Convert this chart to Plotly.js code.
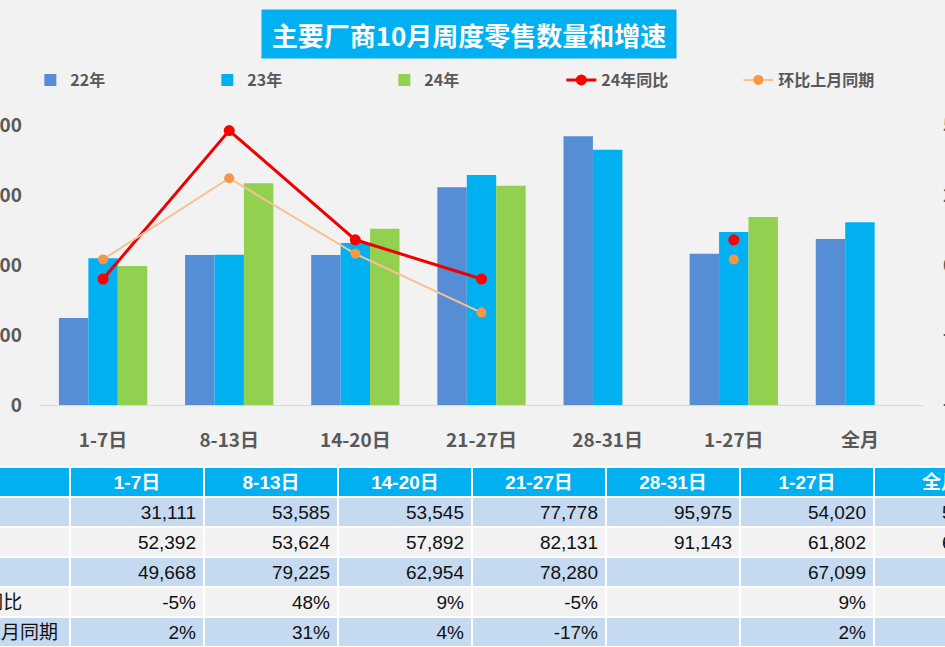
<!DOCTYPE html>
<html>
<head>
<meta charset="utf-8">
<script src="https://cdn.plot.ly/plotly-3.0.1.min.js"></script>
<style>
html,body{margin:0;padding:0;background:#F2F2F2;overflow:hidden;width:945px;height:647px;}
#chart{position:absolute;left:-64px;top:0;width:1072px;height:660px;}
</style>
</head>
<body>
<div id="chart"></div>
<script>
const categories = ['1-7日','8-13日','14-20日','21-27日','28-31日','1-27日','全月'];
const sales22 = [31111, 53585, 53545, 77778, 95975, 54020, 59322];
const sales23 = [52392, 53624, 57892, 82131, 91143, 61802, 65258];
const sales24 = [49668, 79225, 62954, 78280, null, 67099, null];
const yoy24 = [-5, 48, 9, -5, null, 9, null];
const mom = [2, 31, 4, -17, null, 2, null];
const rowLabels = ['22年','23年','24年','24年同比','环比上月同期'];
const leftTicks = [0, 25000, 50000, 75000, 100000];
const rightTicks = [-50, -25, 0, 25, 50];

const CJK = '"Noto Sans CJK SC", "Microsoft YaHei", sans-serif';
const TBL = '"Liberation Sans", Arial, "Noto Sans CJK SC", sans-serif';
const grey = '#595959';

const fmtNum = v => v == null ? '' : v.toLocaleString('en-US');
const fmtPct = v => v == null ? '' : v + '%';

const tableCols = [rowLabels];
categories.forEach((c, i) => {
  tableCols.push([fmtNum(sales22[i]), fmtNum(sales23[i]), fmtNum(sales24[i]), fmtPct(yoy24[i]), fmtPct(mom[i])]);
});
const rowFill = ['#C5D9F1','#F2F2F2','#C5D9F1','#F2F2F2','#C5D9F1'];
const fillCols = tableCols.map(() => rowFill);
const alignCols = tableCols.map((c, i) => i === 0 ? 'left' : 'right');

const traces = [
  {type:'bar', name:'22年', x:categories, y:sales22, marker:{color:'#558ED5'}, yaxis:'y', hoverinfo:'skip'},
  {type:'bar', name:'23年', x:categories, y:sales23, marker:{color:'#00B0F0'}, yaxis:'y', hoverinfo:'skip'},
  {type:'bar', name:'24年', x:categories, y:sales24, marker:{color:'#92D050'}, yaxis:'y', hoverinfo:'skip'},
  {type:'scatter', mode:'lines+markers', name:'24年同比', x:categories, y:yoy24, yaxis:'y2',
   line:{color:'#EE0000', width:3}, marker:{color:'#FF0000', size:11}, connectgaps:false},
  {type:'scatter', mode:'lines+markers', name:'环比上月同期', x:categories, y:mom, yaxis:'y2',
   line:{color:'#FAC090', width:2}, marker:{color:'#F79646', size:10}, connectgaps:false},
  {type:'table', domain:{x:[0,1], y:[0,0.2924]}, columnwidth:tableCols.map(() => 1),
   header:{values:['', ...categories], align:'center', height:30,
     fill:{color:'#00B0F0'}, line:{color:'#FFFFFF', width:2},
     font:{family:TBL, size:19, color:'#FFFFFF', weight:'bold'}},
   cells:{values:tableCols, align:alignCols, height:30,
     fill:{color:fillCols}, line:{color:'#FFFFFF', width:2}, font:{family:TBL, size:19, color:'#111111'}}}
];

const layout = {
  width:1072, height:660,
  margin:{l:0, r:0, t:0, b:0},
  paper_bgcolor:'#F2F2F2', plot_bgcolor:'#F2F2F2',
  barmode:'group', bargap:0.3, bargroupgap:0,
  font:{family:CJK, color:grey},
  showlegend:true,
  legend:{orientation:'h', x:0.088, y:0.8788, xanchor:'left', yanchor:'middle',
    entrywidth:132, font:{family:CJK, size:16, color:grey, weight:'bold'}, bgcolor:'rgba(0,0,0,0)'},
  xaxis:{domain:[0.09701, 0.92071], type:'category', showline:true, linecolor:'#D9D9D9', linewidth:1,
    ticks:'', ticklabelstandoff:18, showgrid:false, zeroline:false,
    tickfont:{family:CJK, size:19, color:grey, weight:'bold'}},
  yaxis:{domain:[0.38636, 0.81061], range:[0,100000], tickvals:leftTicks, tickformat:',d',
    showgrid:false, zeroline:false, showline:false, ticks:'', ticklabelstandoff:17,
    tickfont:{family:CJK, size:19, color:grey, weight:'bold'}},
  yaxis2:{overlaying:'y', side:'right', range:[-50,50], tickvals:rightTicks, ticksuffix:'%',
    showgrid:false, zeroline:false, showline:false, ticks:'', ticklabelstandoff:19,
    tickfont:{family:CJK, size:19, color:grey, weight:'bold'}},
  annotations:[{xref:'paper', yref:'paper', x:0.4972, y:0.9485, xanchor:'center', yanchor:'middle',
    showarrow:false, text:'<b>主要厂商10月周度零售数量和增速</b>', bgcolor:'#00B0F0',
    width:414, height:48, borderpad:0, font:{family:CJK, size:26, color:'#FFFFFF'}}]
};

Plotly.newPlot('chart', traces, layout, {displayModeBar:false, staticPlot:true});
</script>
</body>
</html>
